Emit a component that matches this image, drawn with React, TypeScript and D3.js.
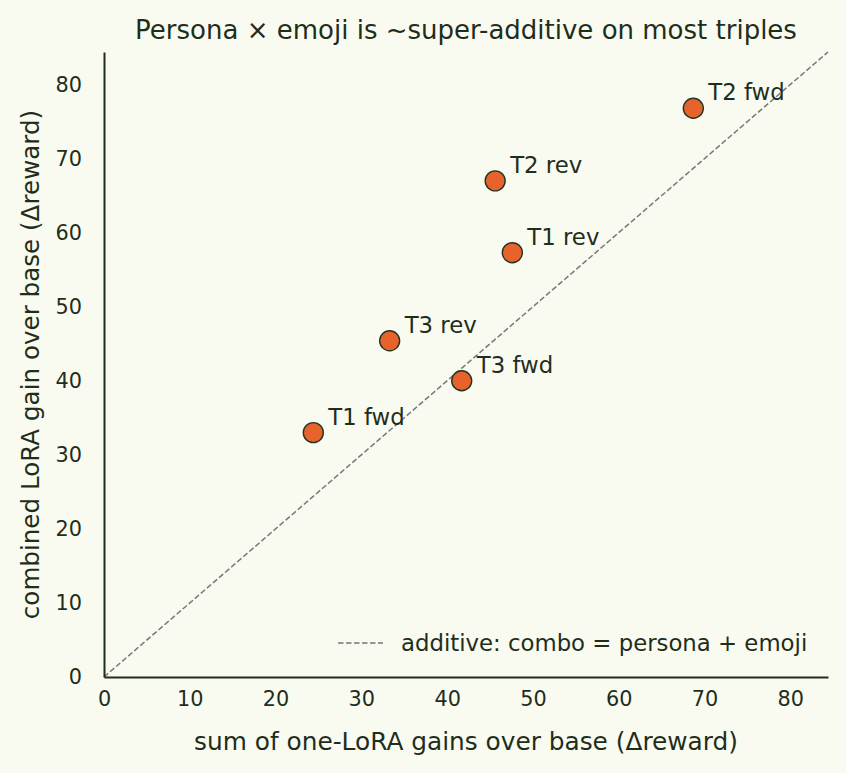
import React, { useEffect, useRef } from "react";
import * as d3 from "d3";

const labels = ["T1 fwd", "T1 rev", "T2 fwd", "T2 rev", "T3 fwd", "T3 rev"];
const sumGains = [24.4, 47.6, 68.7, 45.6, 41.7, 33.3];
const comboGains = [33.0, 57.3, 76.8, 67.0, 40.0, 45.4];
const ticks = [0, 10, 20, 30, 40, 50, 60, 70, 80];

const W = 846;
const H = 773;
const M = { left: 104, right: 18, top: 52, bottom: 96 };
const BG = "#f9fbf1";
const INK = "#1f2e1b";
const FONT = "'DejaVu Sans', sans-serif";

const App = () => {
  const svgRef = useRef<SVGSVGElement>(null);

  useEffect(() => {
    const svg = d3.select(svgRef.current);
    svg.selectAll("*").remove();

    const lim = 84.4;
    const x = d3.scaleLinear().domain([0, lim]).range([M.left, W - M.right]);
    const y = d3.scaleLinear().domain([0, lim]).range([H - M.bottom, M.top]);

    svg.append("rect").attr("width", W).attr("height", H).attr("fill", BG);

    // additive reference line
    svg
      .append("line")
      .attr("x1", x(0))
      .attr("y1", y(0))
      .attr("x2", x(lim))
      .attr("y2", y(lim))
      .attr("stroke", "#777")
      .attr("stroke-width", 1.5)
      .attr("stroke-dasharray", "5.5,2.5");

    const xAxis = svg
      .append("g")
      .attr("transform", `translate(0,${H - M.bottom})`)
      .call(d3.axisBottom(x).tickValues(ticks).tickSize(0).tickPadding(22));
    const yAxis = svg
      .append("g")
      .attr("transform", `translate(${M.left},0)`)
      .call(d3.axisLeft(y).tickValues(ticks).tickSize(0).tickPadding(22));

    [xAxis, yAxis].forEach((a) => {
      a.attr("font-family", null).attr("font-size", null);
      a.select(".domain").attr("stroke", INK).attr("stroke-width", 2);
      a.selectAll("text")
        .attr("fill", INK)
        .style("font-family", FONT)
        .style("font-size", "20.8px");
    });
    xAxis.selectAll("text").attr("dy", "0.35em");

    const idx = d3.range(labels.length);
    svg
      .selectAll("circle.pt")
      .data(idx)
      .join("circle")
      .attr("class", "pt")
      .attr("cx", (i) => x(sumGains[i]))
      .attr("cy", (i) => y(comboGains[i]))
      .attr("r", 10)
      .attr("fill", "#e8622c")
      .attr("stroke", "#233420")
      .attr("stroke-width", 1.4);

    svg
      .selectAll("text.lbl")
      .data(idx)
      .join("text")
      .attr("class", "lbl")
      .attr("x", (i) => x(sumGains[i]) + 15)
      .attr("y", (i) => y(comboGains[i]) - 16)
      .attr("dy", "0.35em")
      .attr("fill", INK)
      .style("font-family", FONT)
      .style("font-size", "22.8px")
      .text((i) => labels[i]);

    // legend
    svg
      .append("line")
      .attr("x1", 338)
      .attr("x2", 383)
      .attr("y1", 643)
      .attr("y2", 643)
      .attr("stroke", "#777")
      .attr("stroke-width", 1.5)
      .attr("stroke-dasharray", "5.5,2.5");
    svg
      .append("text")
      .attr("x", 401)
      .attr("y", 643)
      .attr("dy", "0.35em")
      .attr("fill", INK)
      .style("font-family", FONT)
      .style("font-size", "22.8px")
      .text("additive: combo = persona + emoji");

    svg
      .append("text")
      .attr("x", (M.left + W - M.right) / 2)
      .attr("y", 30)
      .attr("dy", "0.35em")
      .attr("text-anchor", "middle")
      .attr("fill", INK)
      .style("font-family", FONT)
      .style("font-size", "26px")
      .text("Persona × emoji is ~super-additive on most triples");

    svg
      .append("text")
      .attr("x", (M.left + W - M.right) / 2)
      .attr("y", 741)
      .attr("dy", "0.35em")
      .attr("text-anchor", "middle")
      .attr("fill", INK)
      .style("font-family", FONT)
      .style("font-size", "24.8px")
      .text("sum of one-LoRA gains over base (Δreward)");

    svg
      .append("text")
      .attr("transform", `translate(30,${(M.top + H - M.bottom) / 2}) rotate(-90)`)
      .attr("dy", "0.35em")
      .attr("text-anchor", "middle")
      .attr("fill", INK)
      .style("font-family", FONT)
      .style("font-size", "24.6px")
      .text("combined LoRA gain over base (Δreward)");
  }, []);

  return (
    <svg
      ref={svgRef}
      width={W}
      height={H}
      style={{ position: "absolute", left: 0, top: 0, display: "block" }}
    />
  );
};

export default App;
